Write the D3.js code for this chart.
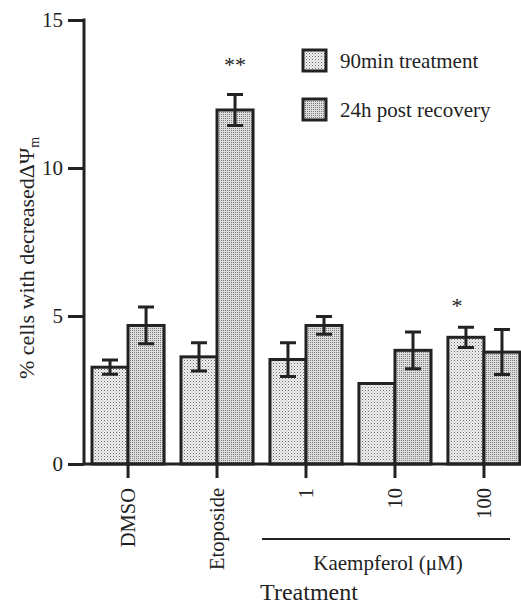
<!DOCTYPE html>
<html>
<head>
<meta charset="utf-8">
<script src="https://cdn.jsdelivr.net/npm/d3@7"></script>
<style>
  body { margin: 0; background: #fff; }
</style>
</head>
<body>
<svg id="chart" width="521" height="607" font-family="Liberation Serif"></svg>
<script>
const categories = ["DMSO", "Etoposide", "1", "10", "100"];
const seriesNames = ["90min treatment", "24h post recovery"];
const treat90 = [3.27, 3.62, 3.53, 2.72, 4.28];
const err90 = [0.24, 0.48, 0.57, 0, 0.34];
const recov24 = [4.68, 11.96, 4.68, 3.84, 3.78];
const err24 = [0.62, 0.52, 0.3, 0.62, 0.76];
const yTicks = [0, 5, 10, 15];
const stars = [
  { cat: "Etoposide", s: 1, text: "**", at: 13.25, dx: 0 },
  { cat: "100", s: 0, text: "*", at: 5.1, dx: -9 },
];
const kaempCats = ["1", "100"];

const ink = "#222";
const font = "Liberation Serif";
const svg = d3.select("#chart");

// patterns for the stippled fills
const defs = svg.append("defs");
const p1 = defs.append("pattern").attr("id", "fill0")
  .attr("width", 3).attr("height", 3).attr("patternUnits", "userSpaceOnUse");
p1.append("rect").attr("width", 3).attr("height", 3).attr("fill", "#f2f2f2");
p1.append("rect").attr("width", 1).attr("height", 1).attr("fill", "#666");
p1.append("rect").attr("x", 1.5).attr("y", 1.5).attr("width", 1).attr("height", 1).attr("fill", "#999");
const p2 = defs.append("pattern").attr("id", "fill1")
  .attr("width", 2).attr("height", 2).attr("patternUnits", "userSpaceOnUse");
p2.append("rect").attr("width", 2).attr("height", 2).attr("fill", "#dedede");
p2.append("rect").attr("width", 1).attr("height", 1).attr("fill", "#7a7a7a");

const data = categories.map((c, i) => ({
  cat: c,
  vals: [
    { s: 0, v: treat90[i], e: err90[i] },
    { s: 1, v: recov24[i], e: err24[i] },
  ],
}));

const yScale = d3.scaleLinear().domain([0, 15]).range([464, 20]);
const x0 = d3.scaleBand().domain(categories).range([92, 520]).paddingInner(0.19);
const x1 = d3.scaleBand().domain([0, 1]).range([0, x0.bandwidth()]);

// bars
const groups = svg.selectAll(".grp").data(data).enter().append("g")
  .attr("transform", (d) => `translate(${x0(d.cat)},0)`);

groups.selectAll("rect").data((d) => d.vals).enter().append("rect")
  .attr("x", (d) => x1(d.s))
  .attr("y", (d) => yScale(d.v))
  .attr("width", x1.bandwidth())
  .attr("height", (d) => yScale(0) - yScale(d.v))
  .attr("fill", (d) => `url(#fill${d.s})`)
  .attr("stroke", ink)
  .attr("stroke-width", 3);

// error bars (upper T and lower inverted T)
const capW = 16;
groups.selectAll(".err").data((d) => d.vals.filter((v) => v.e > 0)).enter()
  .append("path")
  .attr("class", "err")
  .attr("fill", "none")
  .attr("stroke", ink)
  .attr("stroke-width", 3)
  .attr("d", (d) => {
    const cx = x1(d.s) + x1.bandwidth() / 2;
    const yt = yScale(d.v + d.e);
    const yb = yScale(d.v - d.e);
    const ym = yScale(d.v);
    return `M${cx},${ym}V${yt}M${cx - capW / 2},${yt}H${cx + capW / 2}` +
      `M${cx},${ym}V${yb}M${cx - capW / 2},${yb}H${cx + capW / 2}`;
  });

// stars
svg.selectAll(".star").data(stars).enter().append("text")
  .attr("x", (d) => x0(d.cat) + x1(d.s) + x1.bandwidth() / 2 + d.dx)
  .attr("y", (d) => yScale(d.at))
  .attr("text-anchor", "middle")
  .attr("font-family", font)
  .attr("font-size", 22)
  .attr("fill", ink)
  .text((d) => d.text);

// y axis
const yAxis = d3.axisLeft(yScale).tickValues(yTicks).tickSize(16).tickPadding(5).tickSizeOuter(0);
const gy = svg.append("g").attr("transform", "translate(84,0)").call(yAxis)
  .attr("font-family", font);
gy.selectAll("line").attr("stroke", ink).attr("stroke-width", 3);
gy.select(".domain").attr("stroke", ink).attr("stroke-width", 3)
  .attr("d", `M0,${yScale(15) - 1.5}V${yScale(0)}`);
gy.selectAll("text").attr("font-size", 21).attr("fill", ink).attr("font-family", font);

// x axis
const xAxis = d3.axisBottom(x0).tickSize(14).tickSizeOuter(0);
const gx = svg.append("g").attr("transform", `translate(0,${yScale(0)})`).call(xAxis)
  .attr("font-family", font);
gx.select(".domain").attr("stroke", ink).attr("stroke-width", 3)
  .attr("d", `M84,0H${x0.range()[1] + 1}`);
gx.selectAll("line").attr("stroke", ink).attr("stroke-width", 3);
gx.selectAll("text")
  .attr("transform", "rotate(-90)")
  .attr("x", -24).attr("y", 0).attr("dy", "0.35em")
  .attr("text-anchor", "end")
  .attr("font-size", 20.5).attr("fill", ink)
  .attr("font-family", font);

// Kaempferol bracket
const kx0 = x0(kaempCats[0]) - 8;
const kx1 = x0(kaempCats[1]) + x0.bandwidth() - 10;
svg.append("line")
  .attr("x1", kx0).attr("x2", kx1).attr("y1", 539).attr("y2", 539)
  .attr("stroke", ink).attr("stroke-width", 2);
svg.append("text")
  .attr("x", (kx0 + kx1) / 2 + 2).attr("y", 570)
  .attr("text-anchor", "middle").attr("font-size", 21)
  .attr("font-family", font).attr("fill", ink)
  .text("Kaempferol (μM)");

svg.append("text")
  .attr("x", 309).attr("y", 600)
  .attr("text-anchor", "middle").attr("font-size", 24)
  .attr("font-family", font).attr("fill", ink)
  .text("Treatment");

// y label
const yl = svg.append("text")
  .attr("transform", "translate(34,258) rotate(-90)")
  .attr("text-anchor", "middle").attr("font-size", 22)
  .attr("font-family", font).attr("fill", ink);
yl.append("tspan").text("% cells with decreasedΔΨ");
yl.append("tspan").attr("font-size", 14).attr("dy", 5).text("m");

// legend
const legend = svg.append("g").attr("transform", "translate(303,50)");
const li = legend.selectAll("g").data(seriesNames).enter().append("g")
  .attr("transform", (d, i) => `translate(0,${i * 49})`);
li.append("rect").attr("width", 23).attr("height", 21)
  .attr("fill", (d, i) => `url(#fill${i})`)
  .attr("stroke", ink).attr("stroke-width", 3);
li.append("text").attr("x", 37).attr("y", 18).attr("font-size", 21)
  .attr("font-family", font).attr("fill", ink)
  .text((d) => d);
</script>
</body>
</html>
